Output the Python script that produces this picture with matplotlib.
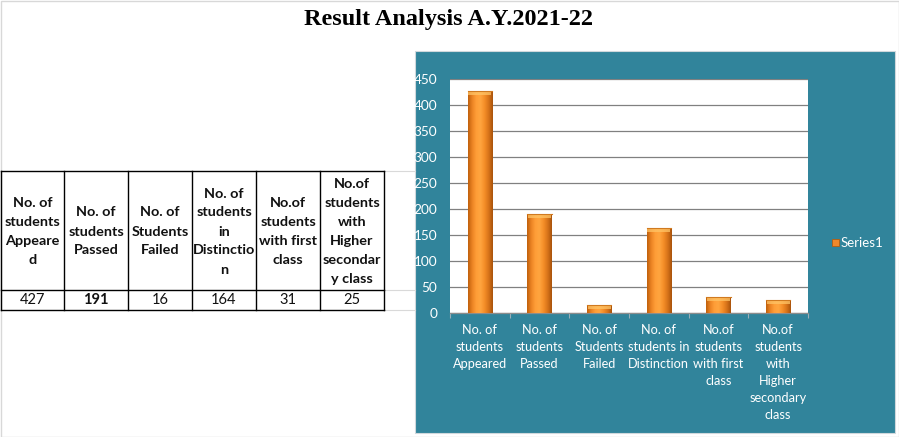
import matplotlib
matplotlib.use("Agg")
import matplotlib.pyplot as plt
import numpy as np
from matplotlib.patches import Rectangle
from matplotlib.colors import LinearSegmentedColormap

# ---------------- data ----------------
title = "Result Analysis A.Y.2021-22"
table_headers = [
    "No. of\nstudents\nAppeare\nd",
    "No. of\nstudents\nPassed",
    "No. of\nStudents\nFailed",
    "No. of\nstudents\nin\nDistinctio\nn",
    "No.of\nstudents\nwith first\nclass",
    "No.of\nstudents\nwith\nHigher\nsecondar\ny class",
]
chart_categories = [
    "No. of\nstudents\nAppeared",
    "No. of\nstudents\nPassed",
    "No. of\nStudents\nFailed",
    "No. of\nstudents in\nDistinction",
    "No.of\nstudents\nwith first\nclass",
    "No.of\nstudents\nwith\nHigher\nsecondary\nclass",
]
values = [427, 191, 16, 164, 31, 25]
bold_value = [False, True, False, False, False, False]
series_name = "Series1"
y_ticks = [0, 50, 100, 150, 200, 250, 300, 350, 400, 450]

# ---------------- figure ----------------
W, H = 899, 437
fig = plt.figure(figsize=(W / 100, H / 100), dpi=100)
fig.patch.set_facecolor("white")

TEAL = "#31849B"
FONT = ["Lato", "DejaVu Sans"]

# overlay axes in pixel coordinates
ov = fig.add_axes([0, 0, 1, 1], zorder=0)
ov.set_xlim(0, W)
ov.set_ylim(H, 0)
ov.axis("off")

# thin frame around the image
ov.add_patch(Rectangle((0.5, 0.5), W - 1, H - 1, fill=False, ec="#D8D8D8", lw=1))

# title
ov.text(448, 20, title, ha="center", va="center", fontsize=17.5,
        fontweight="bold", family=["Liberation Serif", "DejaVu Serif"])

# teal chart panel
ov.add_patch(Rectangle((415, 51), 480, 382, fc=TEAL, ec="#D0D8DC", lw=0.8))

# spreadsheet faint gridlines
for yy in [171, 290, 310]:
    ov.plot([384, 415], [yy, yy], color="#D9D9D9", lw=0.8)

# table
col_x = [1, 64, 128, 192, 256, 320, 384]
row_y = [171, 290, 310]
for yy in row_y:
    ov.plot([col_x[0], col_x[-1]], [yy, yy], color="black", lw=1)
for xx in col_x:
    ov.plot([xx, xx], [row_y[0], row_y[-1]], color="black", lw=1)
for i, (hdr, v, b) in enumerate(zip(table_headers, values, bold_value)):
    cx = (col_x[i] + col_x[i + 1]) / 2
    ov.text(cx, 231.5, hdr, ha="center", va="center", fontsize=10.4,
            fontweight="bold", family=FONT, linespacing=1.7, color="#111111")
    ov.text(cx, 300.5, str(v), ha="center", va="center", fontsize=10.5,
            fontweight="bold" if b else "normal", family=FONT, color="#111111")

# ---------------- chart ----------------
ax_l, ax_r, ax_t, ax_b = 450, 808, 79, 313
ax = fig.add_axes([ax_l / W, 1 - ax_b / H, (ax_r - ax_l) / W, (ax_b - ax_t) / H], zorder=2)
ax.set_facecolor("white")
n = len(values)
x = np.arange(n)
ax.set_xlim(-0.5, n - 0.5)
ax.set_ylim(0, 450)
ax.set_yticks(y_ticks)
ax.yaxis.grid(True, color="#808080", lw=0.9)
ax.set_axisbelow(True)
for s in ["left", "right", "top"]:
    ax.spines[s].set_visible(False)
ax.spines["bottom"].set_color("#8C8C8C")
ax.spines["bottom"].set_linewidth(0.9)
ax.tick_params(axis="y", length=0, pad=9, labelcolor="white", labelsize=9.8)
ax.set_xticks(x)
ax.set_xticklabels(chart_categories)
ax.set_xticks(np.arange(-0.5, n, 1.0), minor=True)
ax.tick_params(axis="x", which="major", length=0, pad=8, labelcolor="white", labelsize=9.2)
ax.tick_params(axis="x", which="minor", length=3.5, color="#9AAFB8", width=0.8)
for lab in ax.get_xticklabels() + ax.get_yticklabels():
    lab.set_family(FONT)
for lab in ax.get_xticklabels():
    lab.set_linespacing(1.5)
    lab.set_va("top")

# bars with cylinder-like gradient
bw = 0.41
cmap = LinearSegmentedColormap.from_list(
    "cyl", ["#C0600C", "#EC8424", "#FF9E38", "#FFA53F", "#F58E28", "#D8741A", "#A9530C"])
grad = np.linspace(0, 1, 64).reshape(1, -1)
bars = ax.bar(x, values, width=bw, color="#F79646", zorder=3, lw=0)
for b, v in zip(bars, values):
    x0 = b.get_x()
    im = ax.imshow(grad, extent=[x0, x0 + bw, 0, v], aspect="auto", cmap=cmap,
                   zorder=4, interpolation="bicubic")
    im.set_clip_path(b)
    # top cap
    cap = min(8, v * 0.5)
    ax.add_patch(Rectangle((x0 + 0.01, v - cap), bw - 0.02, cap, fc="#FFC466",
                           ec="none", alpha=0.75, zorder=5))
    ax.plot([x0, x0 + bw], [v, v], color="#D07A20", lw=0.8, zorder=6)
ax.set_xlim(-0.5, n - 0.5)
ax.set_ylim(0, 450)

# legend
ov.add_patch(Rectangle((832, 239), 7, 7, fc="#F0882A", ec="#B35E10", lw=0.6))
ov.text(841, 243, series_name, ha="left", va="center", color="white",
        fontsize=9.5, family=FONT)

fig.savefig("out.png", dpi=100, facecolor=fig.get_facecolor())
